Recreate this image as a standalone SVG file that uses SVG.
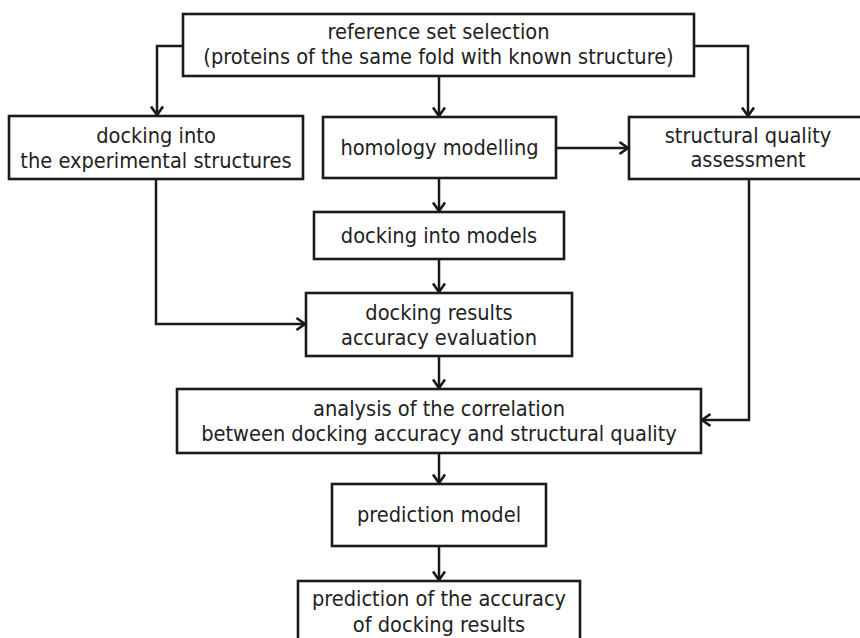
<svg xmlns="http://www.w3.org/2000/svg" width="860" height="638" viewBox="0 0 860 638">
<defs>
<style>
.box{fill:#fff;stroke:#1a1a1a;stroke-width:2.6}
.t{font-family:"DejaVu Sans","Liberation Sans",sans-serif;font-stretch:condensed;font-size:21.6px;fill:#222;text-anchor:middle}
.c{fill:none;stroke:#1a1a1a;stroke-width:2.5}
</style>
<marker id="ah" markerUnits="userSpaceOnUse" markerWidth="20" markerHeight="20" viewBox="-10 -10 20 20" refX="0" refY="0" orient="auto">
<path d="M-8.5,-6 L0,0 L-8.5,6" fill="none" stroke="#1a1a1a" stroke-width="2.7"/>
</marker>
</defs>
<rect width="860" height="638" fill="#fff"/>
<g id="connectors">
<path class="c" d="M183,46 H157 V115" marker-end="url(#ah)"/>
<path class="c" d="M439,76 V116" marker-end="url(#ah)"/>
<path class="c" d="M694,46 H748 V116" marker-end="url(#ah)"/>
<path class="c" d="M556,148 H628" marker-end="url(#ah)"/>
<path class="c" d="M439,178 V211" marker-end="url(#ah)"/>
<path class="c" d="M156,179 V324 H305" marker-end="url(#ah)"/>
<path class="c" d="M439,259 V292" marker-end="url(#ah)"/>
<path class="c" d="M439,356 V388" marker-end="url(#ah)"/>
<path class="c" d="M749,179 V420 H702" marker-end="url(#ah)"/>
<path class="c" d="M439,453 V483" marker-end="url(#ah)"/>
<path class="c" d="M439,546 V580" marker-end="url(#ah)"/>
</g>
<g id="n-reference">
<rect class="box" x="183" y="14" width="511" height="62"/>
<text class="t" x="438.5" y="39">reference set selection</text>
<text class="t" x="438.5" y="64">(proteins of the same fold with known structure)</text>
</g>
<g id="n-docking-exp">
<rect class="box" x="9" y="116" width="294" height="63"/>
<text class="t" x="156" y="143">docking into</text>
<text class="t" x="156" y="168">the experimental structures</text>
</g>
<g id="n-homology">
<rect class="box" x="323" y="117" width="233" height="61"/>
<text class="t" x="439.5" y="155">homology modelling</text>
</g>
<g id="n-structural">
<rect class="box" x="629" y="117" width="238" height="62"/>
<text class="t" x="748" y="143">structural quality</text>
<text class="t" x="748" y="167">assessment</text>
</g>
<g id="n-docking-models">
<rect class="box" x="314" y="212" width="250" height="47"/>
<text class="t" x="439" y="243">docking into models</text>
</g>
<g id="n-results">
<rect class="box" x="306" y="293" width="266" height="63"/>
<text class="t" x="439" y="320">docking results</text>
<text class="t" x="439" y="345">accuracy evaluation</text>
</g>
<g id="n-analysis">
<rect class="box" x="177" y="389" width="524" height="64"/>
<text class="t" x="439" y="416">analysis of the correlation</text>
<text class="t" x="439" y="441">between docking accuracy and structural quality</text>
</g>
<g id="n-prediction-model">
<rect class="box" x="332" y="484" width="214" height="62"/>
<text class="t" x="439" y="522">prediction model</text>
</g>
<g id="n-prediction-accuracy">
<rect class="box" x="298" y="581" width="282" height="70"/>
<text class="t" x="439" y="606">prediction of the accuracy</text>
<text class="t" x="439" y="632">of docking results</text>
</g>
</svg>
